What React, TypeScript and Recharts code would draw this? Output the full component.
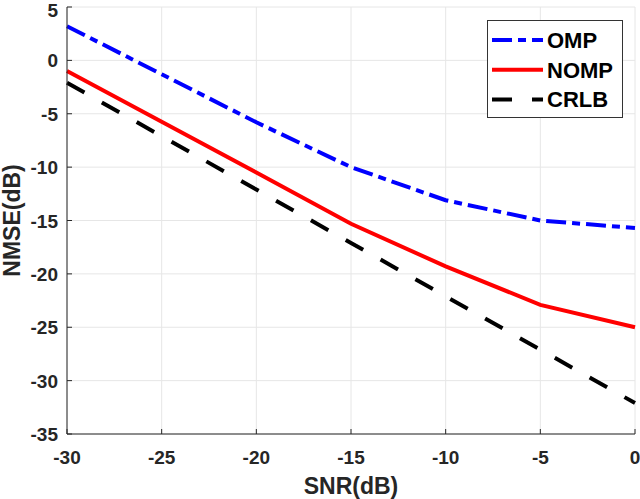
import React from 'react';
import { LineChart, Line, XAxis, YAxis, CartesianGrid, Legend } from 'recharts';

// SNR sweep (dB) and the NMSE (dB) reached by each estimator
const snrValues = [-30, -25, -20, -15, -10, -5, 0];
const ompNmse = [3.2, -1.3, -5.8, -10.0, -13.1, -15.0, -15.7];
const nompNmse = [-1.0, -5.75, -10.5, -15.3, -19.3, -22.9, -25.0];
const crlbNmse = [-2.1, -7.1, -12.1, -17.1, -22.1, -27.1, -32.1];

const xTicks = [-30, -25, -20, -15, -10, -5, 0];
const yTicks = [-35, -30, -25, -20, -15, -10, -5, 0, 5];

const data = snrValues.map((snr, i) => ({
  snr,
  OMP: ompNmse[i],
  NOMP: nompNmse[i],
  CRLB: crlbNmse[i],
}));

const series = [
  { key: 'OMP', color: '#0000ff', dash: '20 6 8 6' },
  { key: 'NOMP', color: '#ff0000', dash: undefined as string | undefined },
  { key: 'CRLB', color: '#000000', dash: '20 20' },
];

const FONT = '"Liberation Sans", Arial, Helvetica, sans-serif';
const AXIS_COLOR = '#262626';

const XTick = (props: any) => {
  const { x, y, payload } = props;
  return (
    <g>
      <line x1={x} x2={x} y1={y} y2={y - 5} stroke={AXIS_COLOR} strokeWidth={1} />
      <text x={x} y={y + 30} textAnchor="middle" fontFamily={FONT} fontWeight="bold" fontSize={19} fill={AXIS_COLOR}>
        {payload.value}
      </text>
    </g>
  );
};

const YTick = (props: any) => {
  const { x, y, payload } = props;
  // keep the topmost label fully inside the canvas
  const baseline = Math.max(y + 7, 17);
  return (
    <g>
      <line x1={x} x2={x + 5} y1={y} y2={y} stroke={AXIS_COLOR} strokeWidth={1} />
      <text x={x - 9} y={baseline} textAnchor="end" fontFamily={FONT} fontWeight="bold" fontSize={19} fill={AXIS_COLOR}>
        {payload.value}
      </text>
    </g>
  );
};

const XTitle = (props: any) => {
  const { viewBox } = props;
  const cx = viewBox.x + viewBox.width / 2;
  return (
    <text x={cx} y={viewBox.y + 60} textAnchor="middle" fontFamily={FONT} fontWeight="bold" fontSize={23} fill={AXIS_COLOR}>
      SNR(dB)
    </text>
  );
};

const YTitle = (props: any) => {
  const { viewBox } = props;
  const cx = viewBox.x + 20;
  const cy = viewBox.y + viewBox.height / 2;
  return (
    <text
      x={cx}
      y={cy}
      transform={`rotate(-90, ${cx}, ${cy})`}
      textAnchor="middle"
      fontFamily={FONT}
      fontWeight="bold"
      fontSize={23}
      fill={AXIS_COLOR}
    >
      NMSE(dB)
    </text>
  );
};

const LegendBox = () => (
  <div style={{ width: 136, height: 98, boxSizing: 'border-box', border: '1px solid #333', background: '#fff' }}>
    <svg width={134} height={96} style={{ display: 'block' }}>
      {series.map((s, i) => {
        const cy = 19 + i * 29.7;
        return (
          <g key={s.key}>
            <line x1={4} x2={55} y1={cy} y2={cy} stroke={s.color} strokeWidth={4} strokeDasharray={s.dash} />
            <text x={59} y={cy + 8} fontFamily={FONT} fontWeight="bold" fontSize={22} fill="#000">
              {s.key}
            </text>
          </g>
        );
      })}
    </svg>
  </div>
);

export default function App() {
  return (
    <div style={{ width: 640, height: 499 }}>
      <style>{'body{margin:0}'}</style>
      <LineChart width={640} height={499} data={data} margin={{ top: 7, right: 5, left: 0, bottom: 0 }}>
        <CartesianGrid stroke="#e6e6e6" strokeWidth={1} />
        <XAxis
          dataKey="snr"
          type="number"
          domain={[-30, 0]}
          ticks={xTicks}
          interval={0}
          height={65}
          tickLine={false}
          tickSize={0}
          tickMargin={0}
          axisLine={{ stroke: AXIS_COLOR, strokeWidth: 1 }}
          tick={<XTick />}
          label={<XTitle />}
        />
        <YAxis
          type="number"
          domain={[-35, 5]}
          ticks={yTicks}
          interval={0}
          width={67}
          tickLine={false}
          tickSize={0}
          tickMargin={0}
          axisLine={{ stroke: AXIS_COLOR, strokeWidth: 1 }}
          tick={<YTick />}
          label={<YTitle />}
        />
        {series.map((s) => (
          <Line
            key={s.key}
            type="linear"
            dataKey={s.key}
            stroke={s.color}
            strokeWidth={4}
            strokeDasharray={s.dash}
            dot={false}
            activeDot={false}
            isAnimationActive={false}
          />
        ))}
        <Legend
          layout="horizontal"
          verticalAlign="middle"
          align="center"
          content={<LegendBox />}
          wrapperStyle={{ top: 20, left: 487, width: 136, height: 98 }}
        />
      </LineChart>
    </div>
  );
}
